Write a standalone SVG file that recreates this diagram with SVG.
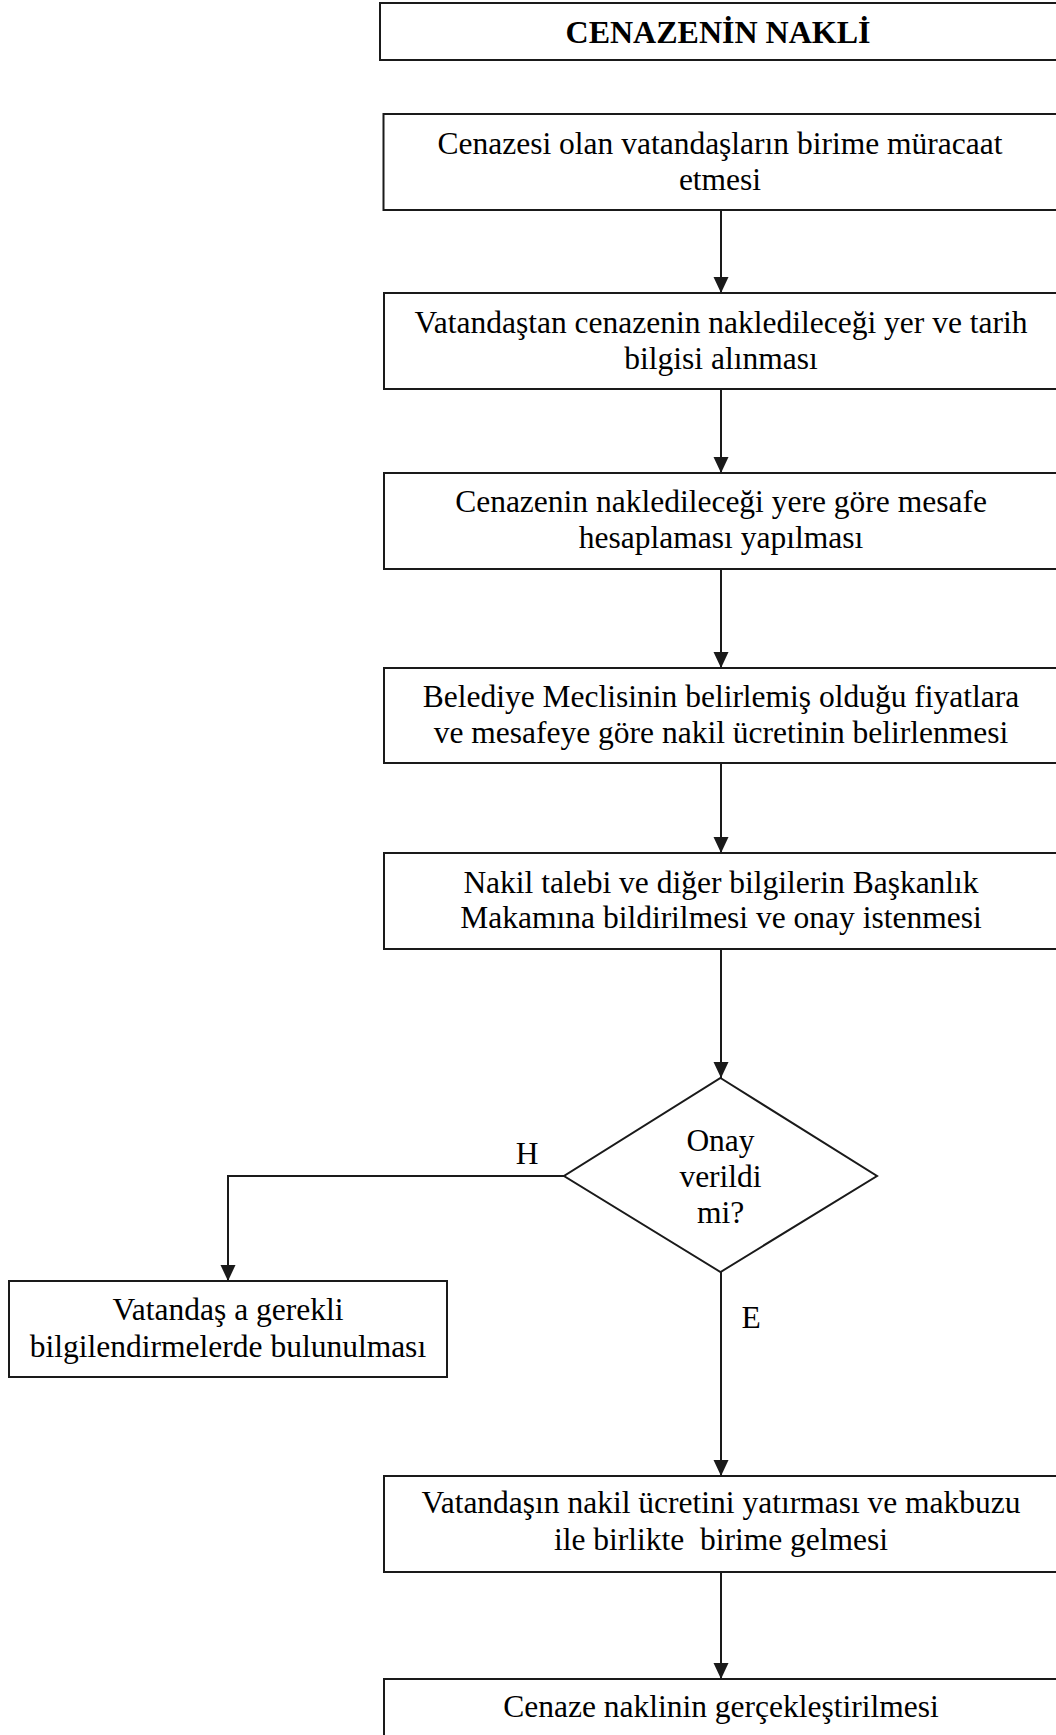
<svg xmlns="http://www.w3.org/2000/svg" width="1056" height="1735" viewBox="0 0 1056 1735">
  <style>
    .box { fill: #ffffff; stroke: #1a1a1a; stroke-width: 2; }
    .edge { fill: none; stroke: #1a1a1a; stroke-width: 2; }
    .t { font-family: "Liberation Serif", "Times New Roman", serif; font-size: 31.5px; fill: #000; text-anchor: middle; }
    .title { font-family: "Liberation Serif", "Times New Roman", serif; font-size: 32px; font-weight: bold; fill: #000; text-anchor: middle; }
  </style>
  <defs>
    <marker id="arrow" markerUnits="userSpaceOnUse" markerWidth="16" markerHeight="16" refX="16" refY="7.5" orient="auto">
      <path d="M0,0 L16,7.5 L0,15 Z" fill="#1a1a1a"/>
    </marker>
  </defs>
  <rect width="1056" height="1735" fill="#ffffff"/>

  <!-- connectors -->
  <g id="connectors">
    <line class="edge" x1="721" y1="210" x2="721" y2="293" marker-end="url(#arrow)"/>
    <line class="edge" x1="721" y1="389" x2="721" y2="473" marker-end="url(#arrow)"/>
    <line class="edge" x1="721" y1="569" x2="721" y2="668" marker-end="url(#arrow)"/>
    <line class="edge" x1="721" y1="763" x2="721" y2="853" marker-end="url(#arrow)"/>
    <line class="edge" x1="721" y1="949" x2="721" y2="1078" marker-end="url(#arrow)"/>
    <polyline class="edge" points="564,1176 228,1176 228,1281" marker-end="url(#arrow)"/>
    <line class="edge" x1="721" y1="1272" x2="721" y2="1476" marker-end="url(#arrow)"/>
    <line class="edge" x1="721" y1="1572" x2="721" y2="1679" marker-end="url(#arrow)"/>
    <text class="t" x="527" y="1164">H</text>
    <text class="t" x="751" y="1328">E</text>
  </g>

  <g id="title">
    <rect class="box" x="380" y="3" width="684" height="57"/>
    <text class="title" x="718" y="43">CENAZENİN NAKLİ</text>
  </g>

  <g id="n1">
    <rect class="box" x="383.5" y="114" width="680" height="96"/>
    <text class="t" x="720" y="154">Cenazesi olan vatandaşların birime müracaat</text>
    <text class="t" x="720" y="190">etmesi</text>
  </g>

  <g id="n2">
    <rect class="box" x="384" y="293" width="678" height="96"/>
    <text class="t" x="721" y="333">Vatandaştan cenazenin nakledileceği yer ve tarih</text>
    <text class="t" x="721" y="369">bilgisi alınması</text>
  </g>

  <g id="n3">
    <rect class="box" x="384" y="473" width="678" height="96"/>
    <text class="t" x="721" y="512">Cenazenin nakledileceği yere göre mesafe</text>
    <text class="t" x="721" y="548">hesaplaması yapılması</text>
  </g>

  <g id="n4">
    <rect class="box" x="384" y="668" width="678" height="95"/>
    <text class="t" x="721" y="707">Belediye Meclisinin belirlemiş olduğu fiyatlara</text>
    <text class="t" x="721" y="743">ve mesafeye göre nakil ücretinin belirlenmesi</text>
  </g>

  <g id="n5">
    <rect class="box" x="384" y="853" width="678" height="96"/>
    <text class="t" x="721" y="893">Nakil talebi ve diğer bilgilerin Başkanlık</text>
    <text class="t" x="721" y="928">Makamına bildirilmesi ve onay istenmesi</text>
  </g>

  <g id="decision">
    <polygon class="box" points="720.5,1078 877,1176 720.5,1272 564,1176"/>
    <text class="t" x="720.5" y="1151">Onay</text>
    <text class="t" x="720.5" y="1187">verildi</text>
    <text class="t" x="720.5" y="1223">mi?</text>
  </g>

  <g id="n-inform">
    <rect class="box" x="9" y="1281" width="438" height="96"/>
    <text class="t" x="228" y="1320">Vatandaş a gerekli</text>
    <text class="t" x="228" y="1357">bilgilendirmelerde bulunulması</text>
  </g>

  <g id="n6">
    <rect class="box" x="384" y="1476" width="678" height="96"/>
    <text class="t" x="721" y="1513">Vatandaşın nakil ücretini yatırması ve makbuzu</text>
    <text class="t" x="721" y="1550" style="white-space: pre">ile birlikte  birime gelmesi</text>
  </g>

  <g id="n7">
    <rect class="box" x="384" y="1679" width="678" height="80"/>
    <text class="t" x="721" y="1717">Cenaze naklinin gerçekleştirilmesi</text>
  </g>
</svg>
